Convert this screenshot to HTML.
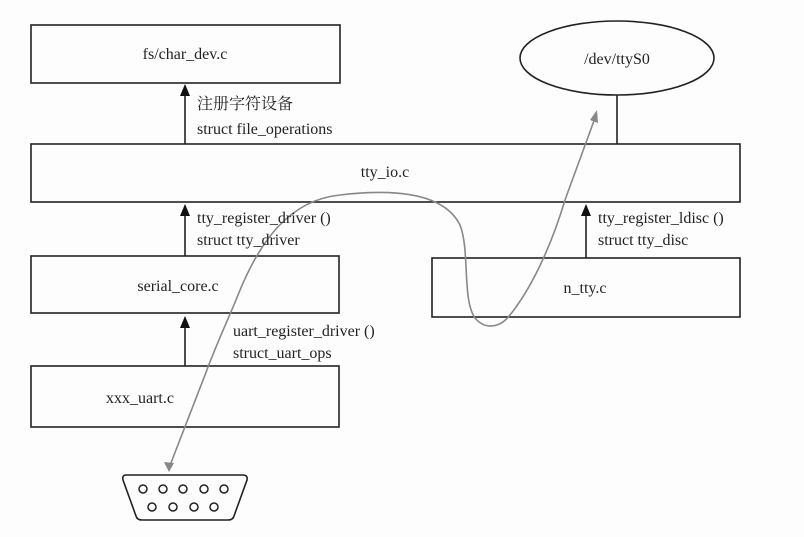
<!DOCTYPE html>
<html><head><meta charset="utf-8"><style>
html,body{margin:0;padding:0;background:#fdfdfd;}
svg{display:block;}
text{font-family:"Liberation Serif","Noto Serif CJK SC",serif;font-size:16px;fill:#222;}
</style></head><body>
<svg width="804" height="537" viewBox="0 0 804 537" xmlns="http://www.w3.org/2000/svg">
<defs>
<marker id="ab" markerWidth="8" markerHeight="10" refX="4" refY="1" orient="auto-start-reverse" markerUnits="userSpaceOnUse"><path d="M0,10 L4,0 L8,10 Z" fill="#111"/></marker>
</defs>
<g fill="none" stroke="#222" stroke-width="1.6">
<rect x="31" y="25" width="309" height="58"/>
<ellipse cx="617" cy="58" rx="97" ry="37"/>
<line x1="617" y1="95" x2="617" y2="144"/>
<rect x="31" y="144" width="709" height="58"/>
<rect x="31" y="256" width="308" height="57"/>
<rect x="432" y="258" width="308" height="59"/>
<rect x="31" y="366" width="308" height="61"/>
<line x1="185" y1="144" x2="185" y2="96"/>
<line x1="185" y1="256" x2="185" y2="214"/>
<line x1="586" y1="258" x2="586" y2="214"/>
<line x1="185" y1="366" x2="185" y2="326"/>
<path d="M126,475 L243,475 Q248,475 247,480 L234,516 Q233,520 228,520 L142,520 Q137,520 136,516 L123,480 Q122,475 126,475 Z"/>
</g>
<g fill="#111">
<path d="M180,96 L185,84 L190,96 Z"/>
<path d="M180,216 L185,204 L190,216 Z"/>
<path d="M581,216 L586,204 L591,216 Z"/>
<path d="M180,328 L185,316 L190,328 Z"/>
</g>
<g fill="none" stroke="#222" stroke-width="1.5">
<circle cx="143" cy="489" r="4"/><circle cx="163" cy="489" r="4"/><circle cx="183" cy="489" r="4"/><circle cx="204" cy="489" r="4"/><circle cx="224" cy="489" r="4"/>
<circle cx="152" cy="507" r="4"/><circle cx="173" cy="507" r="4"/><circle cx="194" cy="507" r="4"/><circle cx="214" cy="507" r="4"/>
</g>
<path d="M169,468 L205,375 C218,340 228,320 238,295 C260,240 290,200 340,195 C400,188 445,195 460,225 C470,250 462,300 475,318 C485,330 500,328 510,315 C530,290 550,250 565,200 L595,118" fill="none" stroke="#888" stroke-width="1.6"/>
<path d="M164,462 L169,472 L174,463 Z" fill="#888"/>
<path d="M590,120 L597,110 L598,123 Z" fill="#888"/>
<text x="185" y="59" text-anchor="middle">fs/char_dev.c</text>
<text x="617" y="64" text-anchor="middle">/dev/ttyS0</text>
<text x="197" y="109">注册字符设备</text>
<text x="197" y="134">struct file_operations</text>
<text x="385" y="177" text-anchor="middle">tty_io.c</text>
<text x="197" y="223">tty_register_driver ()</text>
<text x="197" y="245">struct tty_driver</text>
<text x="598" y="223">tty_register_ldisc ()</text>
<text x="598" y="245">struct tty_disc</text>
<text x="178" y="291" text-anchor="middle">serial_core.c</text>
<text x="585" y="293" text-anchor="middle">n_tty.c</text>
<text x="233" y="336">uart_register_driver ()</text>
<text x="233" y="358">struct_uart_ops</text>
<text x="140" y="403" text-anchor="middle">xxx_uart.c</text>
</svg>
</body></html>
